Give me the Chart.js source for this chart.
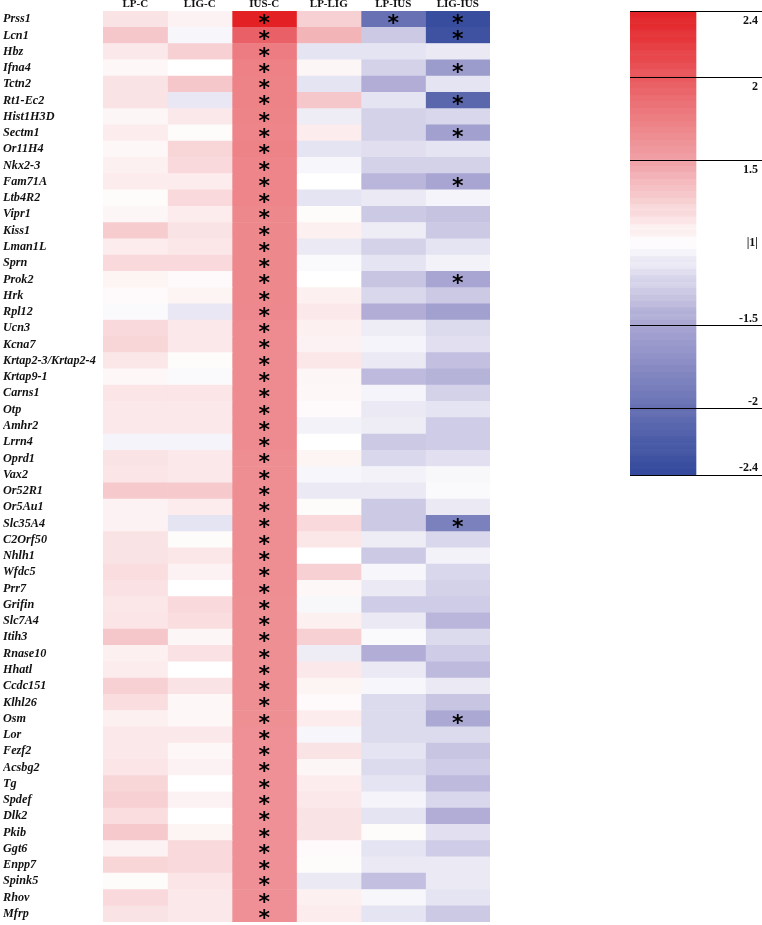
<!DOCTYPE html>
<html>
<head>
<meta charset="utf-8">
<script src="https://cdn.jsdelivr.net/npm/chart.js@4.4.1/dist/chart.umd.min.js"></script>
<style>
  html, body { margin: 0; padding: 0; background: #fff; }
  #heat { position: absolute; left: 0; top: 0; }
  #scale { position: absolute; left: 620px; top: 0; }
</style>
</head>
<body>
<canvas id="heat" width="500" height="925"></canvas>
<canvas id="scale" width="142" height="490"></canvas>
<script>
const columns = ["LP-C", "LIG-C", "IUS-C", "LP-LIG", "LP-IUS", "LIG-IUS"];

const genes = [
  "Prss1", "Lcn1", "Hbz", "Ifna4", "Tctn2", "Rt1-Ec2", "Hist1H3D", "Sectm1",
  "Or11H4", "Nkx2-3", "Fam71A", "Ltb4R2", "Vipr1", "Kiss1", "Lman1L", "Sprn",
  "Prok2", "Hrk", "Rpl12", "Ucn3", "Kcna7", "Krtap2-3/Krtap2-4", "Krtap9-1", "Carns1",
  "Otp", "Amhr2", "Lrrn4", "Oprd1", "Vax2", "Or52R1", "Or5Au1", "Slc35A4",
  "C2Orf50", "Nhlh1", "Wfdc5", "Prr7", "Grifin", "Slc7A4", "Itih3", "Rnase10",
  "Hhatl", "Ccdc151", "Klhl26", "Osm", "Lor", "Fezf2", "Acsbg2", "Tg",
  "Spdef", "Dlk2", "Pkib", "Ggt6", "Enpp7", "Spink5", "Rhov", "Mfrp",
];

// signed fold changes (|1| = no change)
const lpC = [
  1.15, 1.3, 1.12, 1.04, 1.15, 1.15, 1.05, 1.1,
  1.04, 1.08, 1.1, 1.02, 1.05, 1.27, 1.1, 1.2,
  1.06, 1.03, -1.03, 1.2, 1.22, 1.13, 1.04, 1.14,
  1.12, 1.12, -1.06, 1.15, 1.14, 1.28, 1.07, 1.07,
  1.15, 1.15, 1.18, 1.16, 1.13, 1.14, 1.3, 1.08,
  1.1, 1.25, 1.18, 1.08, 1.12, 1.12, 1.14, 1.22,
  1.25, 1.18, 1.28, 1.07, 1.22, 1.02, 1.2, 1.15,
];
const ligC = [
  1.07, -1.05, 1.25, 1.0, 1.3, -1.13, 1.12, 1.02,
  1.22, 1.2, 1.1, 1.2, 1.1, 1.15, 1.13, 1.2,
  1.03, 1.06, -1.13, 1.12, 1.12, 1.02, -1.03, 1.14,
  1.12, 1.12, -1.06, 1.12, 1.12, 1.28, 1.1, -1.15,
  1.02, 1.13, 1.07, 1.0, 1.2, 1.18, 1.05, 1.16,
  1.0, 1.15, 1.04, 1.04, 1.12, 1.04, 1.07, 1.0,
  1.07, 1.0, 1.06, 1.2, 1.2, 1.14, 1.12, 1.12,
];
const iusC = [
  2.4, 1.95, 1.76, 1.73, 1.72, 1.72, 1.71, 1.7,
  1.72, 1.7, 1.7, 1.7, 1.68, 1.68, 1.68, 1.68,
  1.68, 1.68, 1.67, 1.66, 1.66, 1.66, 1.66, 1.66,
  1.66, 1.66, 1.66, 1.64, 1.64, 1.64, 1.64, 1.64,
  1.64, 1.64, 1.64, 1.64, 1.63, 1.63, 1.63, 1.63,
  1.63, 1.63, 1.63, 1.63, 1.62, 1.62, 1.62, 1.62,
  1.62, 1.62, 1.62, 1.62, 1.62, 1.62, 1.62, 1.62,
];
const lpLig = [
  1.25, 1.4, -1.15, 1.05, -1.15, 1.3, -1.1, 1.1,
  -1.15, -1.05, 1.0, -1.15, 1.02, 1.08, -1.12, -1.03,
  1.0, 1.08, 1.12, 1.08, 1.07, 1.13, 1.05, 1.04,
  1.03, -1.07, 1.0, 1.06, -1.05, -1.12, 1.02, 1.2,
  1.13, 1.0, 1.25, 1.04, -1.04, 1.08, 1.25, -1.1,
  1.12, 1.06, 1.03, 1.1, -1.05, 1.15, 1.05, 1.1,
  1.12, 1.15, 1.15, 1.03, 1.02, -1.12, 1.08, 1.1,
];
const lpIus = [
  -2.0, -1.3, -1.15, -1.25, -1.45, -1.15, -1.25, -1.25,
  -1.18, -1.25, -1.4, -1.12, -1.3, -1.1, -1.25, -1.15,
  -1.32, -1.22, -1.45, -1.1, -1.06, -1.12, -1.38, -1.06,
  -1.12, -1.1, -1.3, -1.22, -1.07, -1.12, -1.3, -1.3,
  -1.1, -1.3, -1.05, -1.12, -1.28, -1.12, -1.03, -1.45,
  -1.12, -1.05, -1.2, -1.2, -1.2, -1.15, -1.2, -1.15,
  -1.06, -1.15, 1.02, -1.15, -1.12, -1.35, -1.05, -1.15,
];
const ligIus = [
  -2.35, -2.3, -1.12, -1.6, -1.15, -2.1, -1.22, -1.55,
  -1.15, -1.25, -1.5, -1.06, -1.33, -1.3, -1.15, -1.07,
  -1.5, -1.3, -1.55, -1.2, -1.17, -1.35, -1.42, -1.25,
  -1.15, -1.28, -1.28, -1.17, -1.04, -1.03, -1.12, -1.85,
  -1.22, -1.07, -1.22, -1.25, -1.28, -1.4, -1.2, -1.28,
  -1.38, -1.12, -1.32, -1.48, -1.2, -1.32, -1.28, -1.38,
  -1.22, -1.45, -1.17, -1.28, -1.12, -1.12, -1.15, -1.3,
];
const columnValues = [lpC, ligC, iusC, lpLig, lpIus, ligIus];

// genes marked with * in each column
const sigIusC = genes;
const sigLpIus = ["Prss1"];
const sigLigIus = ["Prss1", "Lcn1", "Ifna4", "Rt1-Ec2", "Sectm1", "Fam71A", "Prok2", "Slc35A4", "Osm"];
const sigByColumn = [[], [], sigIusC, [], sigLpIus, sigLigIus];

// colour scale ticks: position on the bar and the printed label
const scaleTicks = [1.4, 1, 0.5, 0, -0.5, -1, -1.4];
const scaleLabels = ["2.4", "2", "1.5", "|1|", "-1.5", "-2", "-2.4"];

const MAXPOS = 1.4;

// fold change -> position on the colour bar (|1| sits at 0)
function toPos(v) {
  if (v >= 0) return Math.max(v - 1, 0);
  return Math.min(v + 1, 0);
}

function mix(a, b, t) {
  return a.map((c, i) => Math.round(c + (b[i] - c) * t));
}

const KNEE = 0.35;
const RED = [[255, 255, 255], [240, 163, 168], [227, 33, 37]];
const BLUE = [[255, 255, 255], [170, 166, 211], [50, 72, 155]];

function colorForPos(p) {
  const t = Math.min(Math.abs(p) / MAXPOS, 1);
  const stops = p >= 0 ? RED : BLUE;
  const c = t < KNEE
    ? mix(stops[0], stops[1], t / KNEE)
    : mix(stops[1], stops[2], (t - KNEE) / (1 - KNEE));
  return `rgb(${c[0]},${c[1]},${c[2]})`;
}

function colorFor(v) {
  return colorForPos(toPos(v));
}

const serifBold = "'Liberation Serif', 'Times New Roman', serif";

const asteriskPlugin = {
  id: "asterisks",
  afterDatasetsDraw(chart) {
    const { ctx, scales } = chart;
    const size = 22;
    ctx.save();
    ctx.font = `bold ${size}px 'DejaVu Sans', sans-serif`;
    ctx.fillStyle = "#000";
    ctx.textAlign = "center";
    ctx.textBaseline = "alphabetic";
    sigByColumn.forEach((list, j) => {
      list.forEach((g) => {
        const idx = genes.indexOf(g);
        if (idx < 0) return;
        const px = scales.x.getPixelForValue(j + 0.5);
        const py = scales.y.getPixelForValue(idx);
        ctx.fillText("*", px, py + size * 0.5);
      });
    });
    ctx.restore();
  },
};

new Chart(document.getElementById("heat"), {
  type: "bar",
  data: {
    labels: genes,
    datasets: columnValues.map((vals, j) => ({
      label: columns[j],
      data: genes.map(() => [j, j + 1]),
      backgroundColor: vals.map(colorFor),
      borderWidth: 0,
      barPercentage: 1,
      categoryPercentage: 1,
      grouped: false,
    })),
  },
  options: {
    responsive: false,
    animation: false,
    indexAxis: "y",
    layout: { padding: { left: 3, right: 10, top: 0, bottom: 3 } },
    plugins: {
      legend: { display: false },
      tooltip: { enabled: false },
    },
    scales: {
      x: { type: "linear", min: 0, max: 6, display: false },
      top: {
        type: "category",
        labels: columns,
        position: "top",
        offset: true,
        grid: { display: false, drawTicks: false },
        border: { display: false },
        ticks: {
          color: "#111",
          padding: 0,
          maxRotation: 0,
          font: { family: serifBold, size: 11, weight: "bold" },
        },
        afterFit(scale) {
          scale.height = 11;
        },
      },
      y: {
        type: "category",
        offset: true,
        grid: { display: false, drawTicks: false },
        border: { display: false },
        ticks: {
          crossAlign: "far",
          autoSkip: false,
          padding: 0,
          color: "#111",
          font: { family: serifBold, size: 12.2, weight: "bold", style: "italic" },
        },
        afterFit(scale) {
          scale.width = 100;
          scale.paddingTop = 0;
          scale.paddingBottom = 0;
        },
      },
    },
  },
  plugins: [asteriskPlugin],
});

// colour bar
const BANDS = 36;

function barGradient(context) {
  const chart = context.chart;
  if (!chart.chartArea) return "#fff";
  const y = chart.scales.y;
  const top = y.getPixelForValue(MAXPOS);
  const bottom = y.getPixelForValue(-MAXPOS);
  const g = chart.ctx.createLinearGradient(0, top, 0, bottom);
  const step = MAXPOS / BANDS;
  const off = (p) => (MAXPOS - p) / (2 * MAXPOS);
  for (let k = 0; k < BANDS * 2; k++) {
    const p0 = MAXPOS - k * step;
    const p1 = p0 - step;
    const c = colorForPos((p0 + p1) / 2);
    g.addColorStop(Math.min(Math.max(off(p0), 0), 1), c);
    g.addColorStop(Math.min(Math.max(off(p1), 0), 1), c);
  }
  return g;
}

const scaleLabelPlugin = {
  id: "scaleLabels",
  afterDraw(chart) {
    const { ctx, chartArea, scales } = chart;
    ctx.save();
    ctx.font = `bold 12px ${serifBold}`;
    ctx.fillStyle = "#111";
    ctx.textAlign = "right";
    ctx.textBaseline = "middle";
    scaleTicks.forEach((p, i) => {
      const py = scales.y.getPixelForValue(p);
      const dy = p > 0 ? 10 : p < 0 ? -7 : 0;
      ctx.fillText(scaleLabels[i], chartArea.right - 4, py + dy);
    });
    ctx.restore();
  },
};

new Chart(document.getElementById("scale"), {
  type: "bar",
  data: {
    labels: ["bar", ""],
    datasets: [
      {
        data: [[-MAXPOS, MAXPOS], null],
        backgroundColor: barGradient,
        borderWidth: 0,
        barPercentage: 1,
        categoryPercentage: 1,
      },
    ],
  },
  options: {
    responsive: false,
    animation: false,
    layout: { padding: { left: 10, right: 0, top: 11, bottom: 15 } },
    plugins: {
      legend: { display: false },
      tooltip: { enabled: false },
    },
    scales: {
      x: { display: false },
      y: {
        position: "right",
        min: -MAXPOS,
        max: MAXPOS,
        afterBuildTicks(scale) {
          scale.ticks = scaleTicks.map((v) => ({ value: v }));
        },
        ticks: { display: false },
        border: { display: false },
        grid: {
          z: 1,
          drawTicks: false,
          lineWidth: 1,
          color: (ctx) => (ctx.tick && ctx.tick.value === 0 ? "rgba(0,0,0,0)" : "#000"),
        },
        afterFit(scale) {
          scale.width = 0;
        },
      },
    },
  },
  plugins: [scaleLabelPlugin],
});
</script>
</body>
</html>
